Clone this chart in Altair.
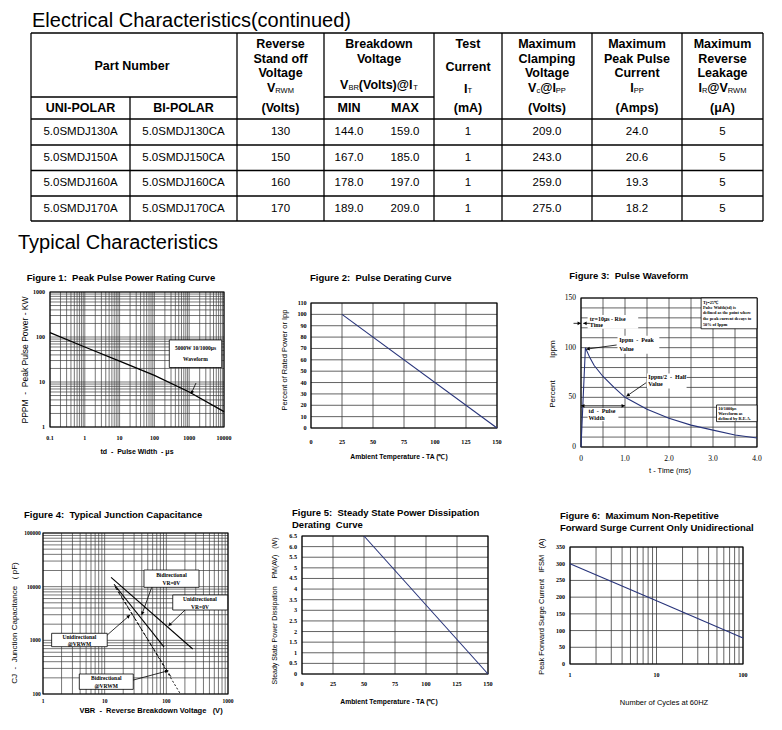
import math
import altair as alt
import pandas as pd

# ---------------------------------------------------------------- values
# Electrical characteristics table
uni_polar = ["5.0SMDJ130A", "5.0SMDJ150A", "5.0SMDJ160A", "5.0SMDJ170A"]
bi_polar = ["5.0SMDJ130CA", "5.0SMDJ150CA", "5.0SMDJ160CA", "5.0SMDJ170CA"]
v_rwm = [130, 150, 160, 170]
vbr_min = [144.0, 167.0, 178.0, 189.0]
vbr_max = [159.0, 185.0, 197.0, 209.0]
i_t = [1, 1, 1, 1]
v_c = [209.0, 243.0, 259.0, 275.0]
i_pp = [24.0, 20.6, 19.3, 18.2]
i_r = [5, 5, 5, 5]

# Figure 1: peak pulse power vs pulse width
f1_width_us = [0.1, 1, 10, 100, 1000, 10000]
f1_power_kw = [125, 60, 29, 14, 6.0, 2.2]
f1_x_ticks = [0.1, 1, 10, 100, 1000, 10000]
f1_y_ticks = [1, 10, 100, 1000]

# Figure 2: pulse derating
f2_temp = [25, 150]
f2_percent = [100, 0]
f2_x_ticks = [0, 25, 50, 75, 100, 125, 150]
f2_y_ticks = [0, 10, 20, 30, 40, 50, 60, 70, 80, 90, 100, 110]

# Figure 3: pulse waveform
f3_time_ms = [0, 0.1, 0.2, 0.3, 0.5, 0.75, 1.0, 1.5, 2.0, 2.5, 3.0, 3.5, 4.0]
f3_percent = [0, 100, 90, 82, 71, 60, 50, 38, 29, 22, 17, 12, 9]
f3_x_ticks = [0, 1, 2, 3, 4]
f3_x_labels = ["0", "1.0", "2.0", "3.0", "4.0"]
f3_y_ticks = [0, 50, 100, 150]
f3_x_grid = [0, 0.5, 1, 1.5, 2, 2.5, 3, 3.5, 4]
f3_y_grid = [0, 10, 20, 30, 40, 50, 60, 70, 80, 90, 100, 110, 120, 130, 140, 150]

# Figure 4: junction capacitance
f4_uni_0v_v = [12.7, 268]
f4_uni_0v_pf = [14900, 690]
f4_bi_0v_v = [14.2, 92]
f4_bi_0v_pf = [11100, 750]
f4_uni_rwm_v = [14.7, 122]
f4_uni_rwm_pf = [10000, 200]
f4_bi_rwm_v = [15.7, 165]
f4_bi_rwm_pf = [9300, 105]
f4_x_ticks = [1, 10, 100, 1000]
f4_y_ticks = [100, 1000, 10000, 100000]

# Figure 5: steady state power derating
f5_temp = [50, 150]
f5_power_w = [6.5, 0]
f5_x_ticks = [0, 25, 50, 75, 100, 125, 150]
f5_y_ticks = [0, 0.5, 1, 1.5, 2, 2.5, 3, 3.5, 4, 4.5, 5, 5.5, 6, 6.5]
f5_y_labels = ["0", "0.5", "1", "1.5", "2", "2.5", "3", "3.5", "4", "4.5", "5", "5.5", "6.0", "6.5"]

# Figure 6: forward surge current
f6_cycles = [1, 10, 100]
f6_current_a = [300, 189, 78]
f6_x_ticks = [1, 10, 100]
f6_y_ticks = [0, 50, 100, 150, 200, 250, 300, 350]

# ---------------------------------------------------------------- style / layout
OFF = 8
W, H = 766, 714
NAVY = "#27337a"
GRID = "#3c3c3c"
SANS = "Liberation Sans, Arial, sans-serif"
SERIF = "Liberation Serif, Times New Roman, serif"
NB = "\u00a0"


def fmt(v):
    return f"{v:g}"


def decades(e0, e1):
    vals = []
    for e in range(e0, e1):
        for m in range(1, 10):
            vals.append(round(m * 10 ** e, 6))
    vals.append(round(10 ** e1, 6))
    return vals


page_x = alt.Scale(domain=[OFF, OFF + W], range=[0, W], nice=False, zero=False)
page_y = alt.Scale(domain=[OFF, OFF + H], range=[0, H], nice=False, zero=False)


def page_text(rows, size, weight="normal", font=SANS, align="center", angle=0):
    df = pd.DataFrame(rows, columns=["text", "x", "y"])
    return alt.Chart(df).mark_text(
        font=font, fontSize=size, fontWeight=weight, align=align, baseline="middle",
        color="black", angle=angle
    ).encode(
        x=alt.X("x:Q", scale=page_x, axis=None),
        y=alt.Y("y:Q", scale=page_y, axis=None),
        text="text:N",
    )


# ---------------- table geometry
col_edges = [31, 130, 237, 324, 434, 502, 592, 682, 763]
row_edges = [33, 97, 119, 145, 170.5, 196, 221]
h_rules = [(col_edges[0], col_edges[-1], row_edges[0]),
           (col_edges[0], col_edges[2], row_edges[1]),
           (col_edges[3], col_edges[4], row_edges[1])] + \
          [(col_edges[0], col_edges[-1], y) for y in row_edges[2:]]
v_rules = [(x, row_edges[0], row_edges[-1]) for x in col_edges if x != col_edges[1]] + \
          [(col_edges[1], row_edges[1], row_edges[-1])]
rule_rows = [(a, b, y, y) for a, b, y in h_rules] + [(x, x, a, b) for x, a, b in v_rules]
rules_df = pd.DataFrame(rule_rows, columns=["x", "x2", "y", "y2"])
table_rules = alt.Chart(rules_df).mark_rule(color="black", strokeWidth=1.3).encode(
    x=alt.X("x:Q", scale=page_x, axis=None), x2="x2",
    y=alt.Y("y:Q", scale=page_y, axis=None), y2="y2")

mid = lambda a, b: (a + b) / 2
c_uni, c_bi = mid(col_edges[0], col_edges[1]), mid(col_edges[1], col_edges[2])
c_vrwm = mid(col_edges[2], col_edges[3])
c_bd = mid(col_edges[3], col_edges[4])
c_min, c_max = 349, 405
c_test = mid(col_edges[4], col_edges[5])
c_vc = mid(col_edges[5], col_edges[6])
c_ipp = mid(col_edges[6], col_edges[7])
c_ir = mid(col_edges[7], col_edges[8])

header_rows = [
    ("Part Number", 132, 66),
    ("Reverse", c_vrwm, 44), ("Stand off", c_vrwm, 58.5), ("Voltage", c_vrwm, 73),
    ("Breakdown", c_bd, 44), ("Voltage", c_bd, 58.5),
    ("Test", c_test, 44), ("Current", c_test, 66.5),
    ("Maximum", c_vc, 44), ("Clamping", c_vc, 58.5), ("Voltage", c_vc, 73),
    ("Maximum", c_ipp, 44), ("Peak Pulse", c_ipp, 58.5), ("Current", c_ipp, 73),
    ("Maximum", c_ir, 44), ("Reverse", c_ir, 58.5), ("Leakage", c_ir, 73),
    ("UNI-POLAR", c_uni, 107.5), ("BI-POLAR", c_bi, 107.5), ("(Volts)", c_vrwm, 107.5),
    ("MIN", c_min, 107.5), ("MAX", c_max, 107.5), ("(mA)", c_test, 107.5),
    ("(Volts)", c_vc, 107.5), ("(Amps)", c_ipp, 107.5), ("(\u03bcA)", c_ir, 107.5),
]

HEAD_SIZE, SUB_SIZE = 12.5, 7.5
BOLD_W = {"V": 667, "I": 278, "(": 333, ")": 333, "o": 611, "l": 278, "t": 333, "s": 556, "@": 975}
REG_W = {"R": 722, "W": 944, "M": 833, "B": 667, "T": 611, "c": 500, "P": 667}
sub_headers = [
    ([("V", 0), ("RWM", 1)], c_vrwm, 88),
    ([("V", 0), ("BR", 1), ("(Volts)@I", 0), ("T", 1)], c_bd, 85),
    ([("I", 0), ("T", 1)], c_test, 88.5),
    ([("V", 0), ("c", 1), ("@I", 0), ("PP", 1)], c_vc, 88),
    ([("I", 0), ("PP", 1)], c_ipp, 88),
    ([("I", 0), ("R", 1), ("@V", 0), ("RWM", 1)], c_ir, 88),
]
seg_main, seg_sub = [], []
for segs, cx, cy in sub_headers:
    widths = [sum((REG_W if s else BOLD_W)[ch] for ch in t) * (SUB_SIZE if s else HEAD_SIZE) / 1000
              for t, s in segs]
    x = cx - sum(widths) / 2
    for (t, s), w in zip(segs, widths):
        (seg_sub if s else seg_main).append((t, x, cy + 2.5 if s else cy))
        x += w

row_centers = [mid(row_edges[i], row_edges[i + 1]) for i in range(2, 6)]
data_rows = []
for i, yc in enumerate(row_centers):
    cells = [uni_polar[i], bi_polar[i], f"{v_rwm[i]}", f"{vbr_min[i]:.1f}", f"{vbr_max[i]:.1f}",
             f"{i_t[i]}", f"{v_c[i]:.1f}", f"{i_pp[i]:.1f}", f"{i_r[i]}"]
    xs = [c_uni, c_bi, c_vrwm, c_min, c_max, c_test, c_vc, c_ipp, c_ir]
    data_rows += [(t, x, yc) for t, x in zip(cells, xs)]

headings = [("Electrical Characteristics(continued)", 32, 20.5), ("Typical Characteristics", 18, 243)]
fig_titles = [
    (f"Figure 1:{NB}{NB}Peak Pulse Power Rating Curve", 26.7, 278.3),
    (f"Figure 2:{NB}{NB}Pulse Derating Curve", 310, 278.3),
    (f"Figure 3:{NB}{NB}Pulse Waveform", 569.3, 275.7),
    (f"Figure 4:{NB}{NB}Typical Junction Capacitance", 24, 514.5),
    (f"Figure 5:{NB}{NB}Steady State Power Dissipation", 292, 513.3),
    (f"Derating{NB}{NB}Curve", 292, 524.7),
    (f"Figure 6:{NB}{NB}Maximum Non-Repetitive", 560, 516),
    ("Forward Surge Current Only Unidirectional", 560, 528.3),
]

# axis titles (text, centre x, centre y, size) in page pixels
x_titles_bold = [
    (f"td{NB}{NB}-{NB}{NB}Pulse Width{NB}{NB}-{NB}\u03bcs", 137, 452, 7),
    ("Ambient Temperature - TA (\u2103)", 399, 457.3, 6.8),
    (f"VBR{NB}{NB}-{NB}{NB}Reverse Breakdown Voltage{NB}{NB}{NB}(V)", 151, 710.7, 7.5),
    ("Ambient Temperature - TA (\u2103)", 389, 701.7, 6.8),
]
x_titles_regular = [
    ("t - Time (ms)", 670, 470.7, 7.5),
    ("Number of Cycles at 60HZ", 664, 703.3, 7.5),
]
y_titles = [
    (f"PPPM{NB}{NB}-{NB}{NB}Peak Pulse Power - KW", 25, 360, 8.5),
    ("Percent of Rated Power or Ipp", 285, 360, 7.5),
    ("Percent" + NB * 10 + "Ippm", 553, 374, 8),
    (f"CJ{NB}{NB}-{NB}{NB}Junction Capacitance{NB}{NB}{NB}({NB}pF)", 15, 623, 8),
    (f"Steady State Power Dissipation{NB}{NB}{NB}{NB}PM(AV){NB}{NB}{NB}(W)", 275, 611, 7),
    (f"Peak Forward Surge Current{NB}{NB}{NB}IFSM{NB}{NB}{NB}(A)", 541.7, 606.7, 7.5),
]

page_layers = [
    table_rules,
    page_text(headings, 20, align="left"),
    page_text(fig_titles, 9.5, weight="bold", align="left"),
    page_text(header_rows, HEAD_SIZE, weight="bold"),
    page_text(seg_main, HEAD_SIZE, weight="bold", align="left"),
    page_text(seg_sub, SUB_SIZE, align="left"),
    page_text(data_rows, 11.5),
]
for t, x, y, s in x_titles_bold:
    page_layers.append(page_text([(t, x, y)], s, weight="bold"))
for t, x, y, s in x_titles_regular:
    page_layers.append(page_text([(t, x, y)], s))
for t, x, y, s in y_titles:
    page_layers.append(page_text([(t, x, y)], s, angle=270))
page_layer = alt.layer(*page_layers)


# ---------------- figure machinery
class Fig:
    def __init__(self, xkind, xdom, xpx, ykind, ydom, ypx):
        self.xkind, self.xdom, self.xpx = xkind, xdom, xpx
        self.ykind, self.ydom, self.ypx = ykind, ydom, ypx  # ypx = (top, bottom)
        self.sx = alt.Scale(type=xkind, domain=list(xdom), range=[xpx[0] - OFF, xpx[1] - OFF], nice=False)
        self.sy = alt.Scale(type=ykind, domain=list(ydom), range=[ypx[1] - OFF, ypx[0] - OFF], nice=False)

    def X(self, f):
        return alt.X(f + ":Q", scale=self.sx, axis=None)

    def Y(self, f):
        return alt.Y(f + ":Q", scale=self.sy, axis=None)

    @staticmethod
    def _t(v, kind):
        return math.log10(v) if kind == "log" else v

    @staticmethod
    def _it(t, kind):
        return 10 ** t if kind == "log" else t

    def to_px(self, xv, yv):
        a, b = self._t(self.xdom[0], self.xkind), self._t(self.xdom[1], self.xkind)
        c, d = self._t(self.ydom[0], self.ykind), self._t(self.ydom[1], self.ykind)
        px_ = self.xpx[0] + (self.xpx[1] - self.xpx[0]) * (self._t(xv, self.xkind) - a) / (b - a)
        py_ = self.ypx[1] + (self.ypx[0] - self.ypx[1]) * (self._t(yv, self.ykind) - c) / (d - c)
        return px_, py_

    def from_px(self, px_, py_):
        a, b = self._t(self.xdom[0], self.xkind), self._t(self.xdom[1], self.xkind)
        c, d = self._t(self.ydom[0], self.ykind), self._t(self.ydom[1], self.ykind)
        tx = a + (px_ - self.xpx[0]) / (self.xpx[1] - self.xpx[0]) * (b - a)
        ty = c + (py_ - self.ypx[1]) / (self.ypx[0] - self.ypx[1]) * (d - c)
        return self._it(tx, self.xkind), self._it(ty, self.ykind)

    def grid(self, xs, ys, color=GRID, width=0.8):
        dv = pd.DataFrame({"v": xs, "lo": [self.ydom[0]] * len(xs), "hi": [self.ydom[1]] * len(xs)})
        dh = pd.DataFrame({"v": ys, "lo": [self.xdom[0]] * len(ys), "hi": [self.xdom[1]] * len(ys)})
        vr = alt.Chart(dv).mark_rule(color=color, strokeWidth=width).encode(
            x=self.X("v"), y=self.Y("lo"), y2="hi")
        hr = alt.Chart(dh).mark_rule(color=color, strokeWidth=width).encode(
            y=self.Y("v"), x=self.X("lo"), x2="hi")
        return [vr, hr]

    def frame(self):
        df = pd.DataFrame({"x0": [self.xdom[0]], "x1": [self.xdom[1]],
                           "y0": [self.ydom[0]], "y1": [self.ydom[1]]})
        return alt.Chart(df).mark_rect(fillOpacity=0, stroke="black", strokeWidth=1.1).encode(
            x=self.X("x0"), x2="x1", y=self.Y("y0"), y2="y1")

    def xlabels(self, ticks, labels, size, dy, weight="bold"):
        df = pd.DataFrame({"v": ticks, "t": labels, "b": [self.ydom[0]] * len(ticks)})
        return alt.Chart(df).mark_text(font=SERIF, fontSize=size, fontWeight=weight, dy=dy,
                                       baseline="middle", align="center", color="black").encode(
            x=self.X("v"), y=self.Y("b"), text="t:N")

    def ylabels(self, ticks, labels, size, pad, weight="bold"):
        df = pd.DataFrame({"v": ticks, "t": labels, "b": [self.xdom[0]] * len(ticks)})
        return alt.Chart(df).mark_text(font=SERIF, fontSize=size, fontWeight=weight, dx=-pad,
                                       baseline="middle", align="right", color="black").encode(
            x=self.X("b"), y=self.Y("v"), text="t:N")

    def line(self, xs, ys, color, width=1.1, dash=None):
        df = pd.DataFrame({"x": xs, "y": ys})
        kw = dict(color=color, strokeWidth=width)
        if dash:
            kw["strokeDash"] = dash
        return alt.Chart(df).mark_line(**kw).encode(x=self.X("x"), y=self.Y("y"))

    def boxes(self, rows, stroke=True):
        df = pd.DataFrame(rows, columns=["x", "x2", "y", "y2"])
        kw = dict(fill="white", fillOpacity=1)
        if stroke:
            kw.update(stroke="black", strokeWidth=0.8)
        else:
            kw.update(strokeWidth=0)
        return alt.Chart(df).mark_rect(**kw).encode(x=self.X("x"), x2="x2", y=self.Y("y"), y2="y2")

    def texts(self, rows, size, weight="bold", align="center", font=SERIF):
        df = pd.DataFrame(rows, columns=["text", "x", "y"])
        return alt.Chart(df).mark_text(font=font, fontSize=size, fontWeight=weight, align=align,
                                       baseline="middle", color="black").encode(
            x=self.X("x"), y=self.Y("y"), text="text:N")

    def arrows(self, rows, width=0.8, head=14):
        df = pd.DataFrame(rows, columns=["x", "y", "x2", "y2"])
        rule = alt.Chart(df).mark_rule(color="black", strokeWidth=width).encode(
            x=self.X("x"), y=self.Y("y"), x2="x2", y2="y2")
        heads = []
        for x1, y1, x2, y2 in rows:
            p1, p2 = self.to_px(x1, y1), self.to_px(x2, y2)
            dx, dy = p2[0] - p1[0], p2[1] - p1[1]
            L = math.hypot(dx, dy)
            ang = math.degrees(math.atan2(dx, -dy)) % 360
            hx, hy = self.from_px(p2[0] - 1.8 * dx / L, p2[1] - 1.8 * dy / L)
            heads.append((hx, hy, ang))
        hdf = pd.DataFrame(heads, columns=["x", "y", "ang"])
        pts = alt.Chart(hdf).mark_point(shape="triangle-up", filled=True, size=head, color="black",
                                        opacity=1).encode(
            x=self.X("x"), y=self.Y("y"), angle=alt.Angle("ang:Q", scale=None))
        return [rule, pts]


# ---------------- Figure 1
f1 = Fig("log", (0.1, 10000), (50, 224), "log", (1, 1000), (292, 427))
fig1 = alt.layer(
    *f1.grid(decades(-1, 4), decades(0, 3), width=0.7),
    f1.frame(),
    f1.xlabels(f1_x_ticks, [fmt(v) for v in f1_x_ticks], 6, 10.7),
    f1.ylabels(f1_y_ticks, [fmt(v) for v in f1_y_ticks], 6, 5),
    f1.line(f1_width_us, f1_power_kw, "black", 1.3),
    f1.boxes([(268, 8600, 21, 86)]),
    f1.texts([("5000W 10/1000\u03bcs", 1517, 57), ("Waveform", 1517, 32.5)], 5.5),
    *f1.arrows([(1567, 9.5, 1127, 5.4)]),
)

# ---------------- Figure 2
f2 = Fig("linear", (0, 150), (311, 497), "linear", (0, 110), (303, 428))
fig2 = alt.layer(
    *f2.grid(f2_x_ticks, f2_y_ticks),
    f2.frame(),
    f2.xlabels(f2_x_ticks, [fmt(v) for v in f2_x_ticks], 6.2, 13.7),
    f2.ylabels(f2_y_ticks, [fmt(v) for v in f2_y_ticks], 6.2, 4.3),
    f2.line(f2_temp, f2_percent, NAVY, 1.1),
)

# ---------------- Figure 3
f3 = Fig("linear", (0, 4), (581, 757), "linear", (0, 150), (298, 447))
fig3 = alt.layer(
    *f3.grid(f3_x_grid, f3_y_grid),
    f3.boxes([(0.15, 1.3, 119, 133), (0.83, 1.78, 94, 112), (1.5, 2.4, 59, 74), (0.15, 0.85, 26, 39)],
             stroke=False),
    f3.frame(),
    f3.xlabels(f3_x_ticks, f3_x_labels, 7.5, 12, weight="normal"),
    f3.ylabels(f3_y_ticks, [fmt(v) for v in f3_y_ticks], 7.5, 5, weight="normal"),
    f3.line(f3_time_ms, f3_percent, NAVY, 1.1),
    f3.boxes([(2.73, 4.0, 119, 150), (3.08, 4.0, 25.5, 42.3)]),
    f3.texts([("Tj=25\u2103", 2.77, 145.3), ("Pulse Width(td) is", 2.77, 140.3),
              ("defined as the point where", 2.77, 134.5), ("the peak current decays to", 2.77, 128.5),
              ("50% of Ippm", 2.77, 122.5),
              ("10/1000\u03bcs", 3.12, 37.9), ("Waveform as", 3.12, 33.2), ("defined by R.E.A.", 3.12, 28.2)],
             4.3, align="left"),
    f3.texts([(f"tr=10\u03bcs{NB}-{NB}Rise", 0.2, 129), ("Time", 0.2, 122.5),
              (f"Ippm{NB}{NB}-{NB}{NB}Peak", 0.87, 107.7), ("Value", 0.87, 98.5),
              (f"Ippm/2{NB}{NB}-{NB}{NB}Half", 1.53, 70.2), ("Value", 1.53, 63.4),
              (f"td{NB}{NB}-{NB}{NB}Pulse", 0.17, 36.5), ("Width", 0.17, 29.5)],
             6, align="left"),
    *f3.arrows([(-0.17, 124.5, 0.0, 124.5), (0.2, 124.5, 0.05, 124.5), (0.81, 102.7, 0.12, 98.5),
                (1.48, 64.7, 1.03, 51), (0.5, 41.5, 0.0, 41.5), (0.5, 41.5, 1.0, 41.5)]),
)

# ---------------- Figure 4
f4 = Fig("log", (1, 1000), (43, 228), "log", (100, 100000), (533, 694))
fig4 = alt.layer(
    *f4.grid(decades(0, 3), decades(2, 5), width=0.7),
    f4.frame(),
    f4.xlabels(f4_x_ticks, [fmt(v) for v in f4_x_ticks], 5.5, 7),
    f4.ylabels(f4_y_ticks, [fmt(v) for v in f4_y_ticks], 5.5, 2.3),
    f4.line(f4_uni_0v_v, f4_uni_0v_pf, "black", 1.1),
    f4.line(f4_bi_0v_v, f4_bi_0v_pf, "black", 1.1),
    f4.line(f4_uni_rwm_v, f4_uni_rwm_pf, "black", 0.9, dash=[4, 2]),
    f4.line(f4_bi_rwm_v, f4_bi_rwm_pf, "black", 0.9, dash=[2, 2]),
    f4.boxes([(43.4, 339, 9730, 20400), (127, 988, 3670, 7000), (1.38, 11.0, 761, 1352),
              (3.88, 29.1, 122, 236)]),
    f4.texts([("Bidirectional", 121, 16400), ("VR=0V", 121, 11700),
              ("Unidirectional", 351, 5890), ("VR=0V", 351, 4240),
              ("Unidirectional", 3.9, 1170), ("@VRWM", 3.9, 855),
              ("Bidirectional", 10.6, 196), ("@VRWM", 10.6, 143)], 5.5),
    *f4.arrows([(57.9, 9730, 39.8, 2965), (201, 3670, 108, 1850), (11.0, 1256, 25.8, 2965),
                (29.1, 182, 108, 272)]),
)

# ---------------- Figure 5
f5 = Fig("linear", (0, 150), (302, 488), "linear", (0, 6.5), (536, 674))
fig5 = alt.layer(
    *f5.grid(f5_x_ticks, f5_y_ticks),
    f5.frame(),
    f5.xlabels(f5_x_ticks, [fmt(v) for v in f5_x_ticks], 6.2, 10),
    f5.ylabels(f5_y_ticks, f5_y_labels, 6.2, 5),
    f5.line(f5_temp, f5_power_w, NAVY, 1.1),
)

# ---------------- Figure 6
f6 = Fig("log", (1, 100), (570, 743), "linear", (0, 350), (547, 664))
fig6 = alt.layer(
    *f6.grid(decades(0, 2), f6_y_ticks),
    f6.frame(),
    f6.xlabels(f6_x_ticks, [fmt(v) for v in f6_x_ticks], 6, 10.7),
    f6.ylabels(f6_y_ticks, [fmt(v) for v in f6_y_ticks], 6, 5),
    f6.line(f6_cycles, f6_current_a, NAVY, 1.1),
)

chart = alt.layer(page_layer, fig1, fig2, fig3, fig4, fig5, fig6).resolve_scale(
    x="independent", y="independent"
).properties(
    width=W, height=H, padding=0, autosize=alt.AutoSizeParams(type="none"), background="white"
).configure_view(strokeWidth=0)

chart.save("out.html", embed_options={"renderer": "svg", "actions": False})
